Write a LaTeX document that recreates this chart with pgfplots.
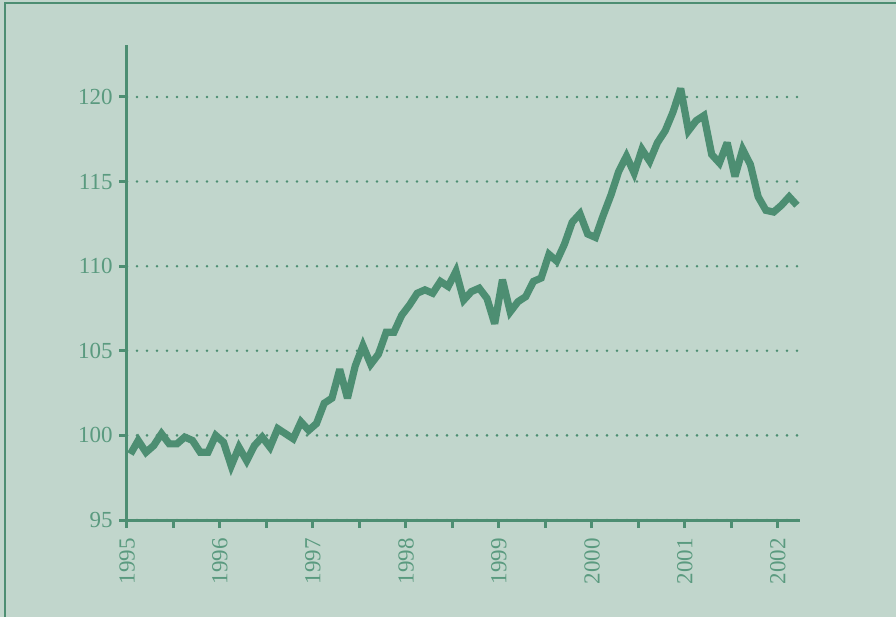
\documentclass[border=0pt]{standalone}
\usepackage{pgfplots}
\pgfplotsset{compat=1.18}
\usepackage{pgfplotstable}
\usepackage{fontspec}
\setmainfont{Liberation Serif}
\definecolor{bg}{HTML}{C1D6CC}
\definecolor{ln}{HTML}{4D8E72}
\definecolor{tx}{HTML}{5A9A7F}
\pgfplotstableread{
m v
0 98.9
1 99.7
2 99.0
3 99.4
4 100.1
5 99.5
6 99.5
7 99.9
8 99.7
9 99.0
10 99.0
11 100.0
12 99.6
13 98.2
14 99.3
15 98.5
16 99.4
17 99.9
18 99.3
19 100.4
20 100.1
21 99.8
22 100.8
23 100.3
24 100.7
25 101.9
26 102.2
27 103.9
28 102.2
29 104.1
30 105.3
31 104.2
32 104.8
33 106.1
34 106.1
35 107.1
36 107.7
37 108.4
38 108.6
39 108.4
40 109.1
41 108.8
42 109.7
43 108.0
44 108.5
45 108.7
46 108.1
47 106.6
48 109.2
49 107.3
50 107.9
51 108.2
52 109.1
53 109.3
54 110.7
55 110.3
56 111.3
57 112.6
58 113.1
59 111.9
60 111.7
61 113.0
62 114.2
63 115.6
64 116.5
65 115.5
66 116.9
67 116.2
68 117.3
69 118.0
70 119.1
71 120.5
72 118.0
73 118.6
74 118.9
75 116.6
76 116.1
77 117.3
78 115.3
79 116.9
80 116.0
81 114.1
82 113.3
83 113.2
84 113.6
85 114.1
86 113.6
}\data
\begin{document}
\begin{tikzpicture}
\useasboundingbox (0,0) rectangle (448pt,-308.5pt);
\fill[bg] (0,0) rectangle (448pt,-308.5pt);
\draw[ln, line width=0.8pt] (2.6pt,-308.5pt) -- (2.6pt,-1.6pt) -- (448pt,-1.6pt);
\begin{axis}[
  at={(63.5pt,-260pt)}, anchor=south west,
  scale only axis, width=336.5pt, height=237.5pt,
  xmin=1995, xmax=2002.237, ymin=95, ymax=123.07,
  axis x line*=bottom, axis y line*=left,
  axis line style={ln, line width=1.5pt, -},
  xtick={1995,1996,...,2002},
  xticklabels={1995,1996,1997,1998,1999,2000,2001,2002},
  minor xtick={1995.5,1996.5,...,2001.5},
  ytick={95,100,...,120},
  tick align=outside,
  major tick length=4pt, minor tick length=4pt,
  tick style={ln, line width=1.5pt},
  every tick/.style={ln, line width=1.5pt},
  /pgf/number format/assume math mode=true,
  ticklabel style={font=\fontsize{11.5}{13.5}\selectfont, text=tx},
  xticklabel style={rotate=90, anchor=east, inner sep=0pt, xshift=-5pt},
  yticklabel style={anchor=east, inner sep=0pt, xshift=-3pt},
  ymajorgrids,
  major grid style={ln, line width=1.4pt, dash pattern=on 0pt off 5pt, line cap=round},
  clip=false,
]
\addplot[ln, line width=3.6pt, line join=miter, miter limit=3] table[x expr={1995+(\thisrow{m}+0.45)/12}, y=v] {\data};
\end{axis}
\end{tikzpicture}
\end{document}
